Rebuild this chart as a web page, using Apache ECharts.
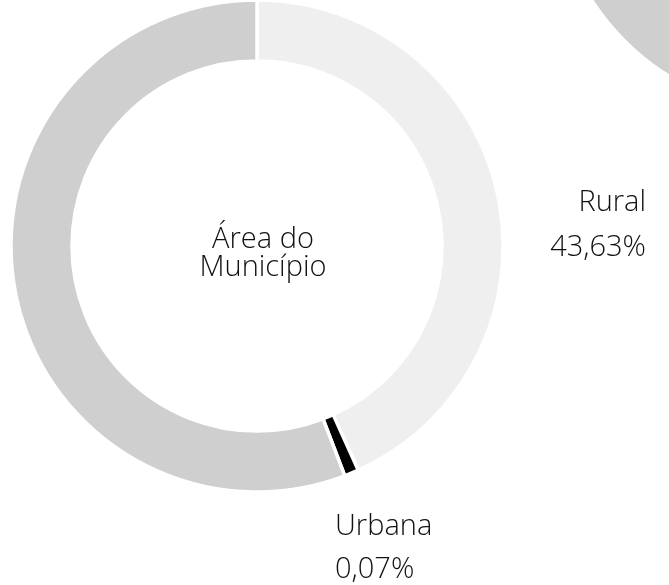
<!DOCTYPE html>
<html lang="pt">
<head>
    <meta charset="utf-8">
    <title>Área do Município</title>
    <script src="https://cdn.jsdelivr.net/npm/echarts@6/dist/echarts.min.js"></script>
</head>
<body style="margin:0;background:#fff;">
    <div id="main" style="width:669px;height:585px;"></div>

    <script>
    // dados
    var categorias = ['Rural', 'Urbana', 'Outros'];
    var valores = [43.63, 0.07, 56.30];
    var cores = ['#efefef', '#000000', '#cfcfcf'];
    var rotulos = [true, true, false];
    // pedaço do gráfico vizinho (canto superior direito)
    var vizinhoValores = [100];

    var fonte = '"Open Sans", Roboto, sans-serif';

    function pct(v) {
        return v.toFixed(2).replace('.', ',') + '%';
    }

    // espaçamento entre linhas de cada rótulo
    var entreLinhas = [46, 41, 40];

    var dados = categorias.map(function (c, i) {
        return {
            name: c,
            value: valores[i],
            itemStyle: {color: cores[i]},
            label: {
                show: rotulos[i],
                rich: {
                    n: {fontFamily: fonte, fontWeight: 300, fontSize: 29, lineHeight: 44, color: '#111'},
                    v: {fontFamily: fonte, fontWeight: 300, fontSize: 29, lineHeight: entreLinhas[i], color: '#111'}
                }
            }
        };
    });

    // posição dos rótulos (Rural à direita, Urbana em baixo)
    var posRotulos = {
        0: {x: 646, y: 181, align: 'right', verticalAlign: 'top'},
        1: {x: 335, y: 505, align: 'left', verticalAlign: 'top'}
    };

    var myChart = echarts.init(document.getElementById('main'));
    myChart.setOption({
        animation: false,
        backgroundColor: '#fff',
        title: {
            text: 'Área do\nMunicípio',
            left: 263,
            top: 226,
            padding: 0,
            textAlign: 'center',
            textStyle: {fontFamily: fonte, fontWeight: 300, fontSize: 29, lineHeight: 28, color: '#111'}
        },
        series: [{
            type: 'pie',
            center: [257, 246],
            radius: [185, 246],
            startAngle: 90,
            clockwise: true,
            minAngle: 3.4,
            avoidLabelOverlap: false,
            itemStyle: {borderColor: '#fff', borderWidth: 3.5},
            label: {
                position: 'outside',
                formatter: function (p) {
                    return '{n|' + p.name + '}\n{v|' + pct(valores[p.dataIndex]) + '}';
                }
            },
            labelLine: {show: false},
            labelLayout: function (p) {
                return posRotulos[p.dataIndex] || {};
            },
            emphasis: {disabled: true},
            data: dados
        }, {
            type: 'pie',
            center: [800, -134],
            radius: [185, 246],
            silent: true,
            label: {show: false},
            itemStyle: {color: '#cfcfcf'},
            data: vizinhoValores.map(function (v) { return {name: 'vizinho', value: v}; })
        }]
    });
    </script>
</body>
</html>
